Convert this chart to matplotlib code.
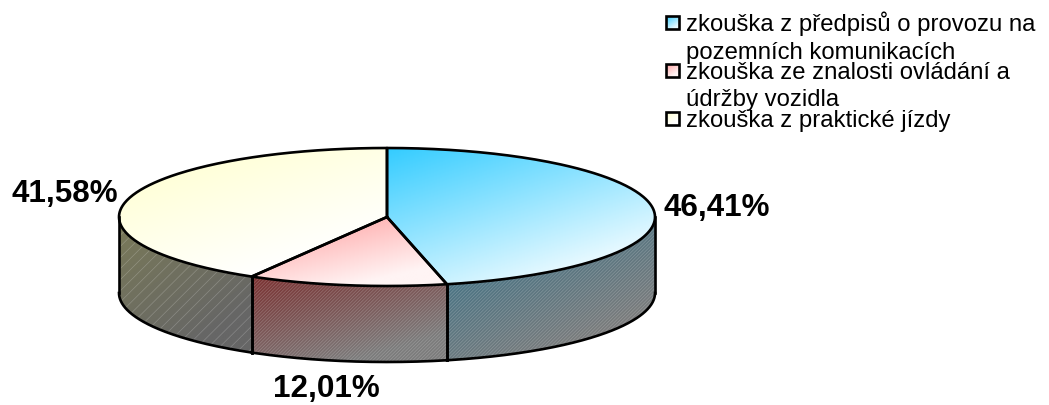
import numpy as np
import matplotlib
matplotlib.use("Agg")
import matplotlib.pyplot as plt
from matplotlib.colors import LinearSegmentedColormap
from matplotlib.patches import PathPatch, Rectangle
from matplotlib.path import Path

plt.rcParams['font.family'] = ['Liberation Sans', 'DejaVu Sans']
plt.rcParams['hatch.linewidth'] = 0.5

labels = ["zkouška z předpisů o provozu na\npozemních komunikacích",
          "zkouška ze znalosti ovládání a\núdržby vozidla",
          "zkouška z praktické jízdy"]
values = [46.41, 12.01, 41.58]
value_labels = ["46,41%", "12,01%", "41,58%"]

top_colors = [("#33ccff", "#e6f9ff"), ("#ff9999", "#fff4f4"), ("#ffffcc", "#ffffff")]
side_colors = [("#2f6f88", "#7c7c7c"), ("#7a3030", "#7c7c7c"), ("#7a7a58", "#666666")]
hatches = ["//////////", "//////////", "///"]

# pie geometry in image pixels
cx, cy, rx, ry, depth = 387, 217, 268, 69, 76

fig = plt.figure(figsize=(10.49, 4.05), dpi=100)
ax = fig.add_axes([0, 0, 1, 1])
ax.axis("off")


def rim(a, b, dy=0):
    t = np.radians(np.linspace(a, b, 200))
    return np.column_stack([cx + rx * np.sin(t), cy + dy - ry * np.cos(t)])


def gradient_fill(verts, c1, c2, zorder=2):
    # diagonal gradient clipped to the shape
    x0, y0 = verts.min(axis=0)
    x1, y1 = verts.max(axis=0)
    gx, gy = np.meshgrid(np.linspace(0, 1, 200), np.linspace(0, 1, 100))
    cmap = LinearSegmentedColormap.from_list("g", [c1, c2])
    im = ax.imshow(0.5 * gx + 0.75 * gy, extent=[x0, x1, y1, y0], cmap=cmap, vmin=0, vmax=1,
                   aspect="auto", zorder=zorder, interpolation="bilinear")
    patch = PathPatch(Path(np.vstack([verts, verts[0]])), fc="none", ec="none", transform=ax.transData)
    ax.add_patch(patch)
    im.set_clip_path(patch)


edges = np.cumsum([0] + values) * 3.6

# sides first
for i in range(3):
    a, b = max(edges[i], 90), min(edges[i + 1], 270)
    side = np.vstack([rim(a, b), rim(a, b, depth)[::-1]])
    gradient_fill(side, *side_colors[i])
    ax.add_patch(PathPatch(Path(side), fc="none", ec=(1, 1, 1, 0.22), lw=0, hatch=hatches[i], zorder=3))

for i in range(3):
    arc = rim(edges[i], edges[i + 1])
    wedge = np.vstack([[cx, cy], arc])
    gradient_fill(wedge, *top_colors[i])

# outlines
for i in range(3):
    arc = rim(edges[i], edges[i + 1])
    ax.plot(*np.vstack([[cx, cy], arc, [cx, cy]]).T, color="black", lw=1.9, zorder=5, solid_joinstyle="round")
    a, b = max(edges[i], 90), min(edges[i + 1], 270)
    low = rim(a, b, depth)
    ax.plot(*low.T, color="black", lw=1.9, zorder=5)
    for p in (rim(a, a), rim(b, b)):
        ax.plot([p[0, 0], p[0, 0]], [p[0, 1], p[0, 1] + depth], color="black", lw=1.9, zorder=5)

# percent labels
label_pos = [(717, 208), (326, 389), (65, 194)]
for s, (x, y) in zip(value_labels, label_pos):
    ax.text(x, y, s, fontsize=22.6, fontweight="bold", ha="center", va="center", zorder=6)

# legend
swatch_y = [22.5, 70, 118]
baselines = [[31, 59], [79, 106], [127]]
for i, s in enumerate(labels):
    y = swatch_y[i]
    box = np.array([[666, y - 6.5], [679, y - 6.5], [679, y + 6.5], [666, y + 6.5]])
    gradient_fill(box, top_colors[i][0], top_colors[i][1], zorder=6)
    ax.add_patch(Rectangle((666, y - 6.5), 13, 13, fc="none", ec="black", lw=1.9, zorder=7))
    for line, base in zip(s.split("\n"), baselines[i]):
        ax.text(686, base, line, fontsize=17.2, ha="left", va="baseline", zorder=6)

ax.set_xlim(0, 1049)
ax.set_ylim(405, 0)
fig.savefig("out.png", dpi=100, facecolor="white")
